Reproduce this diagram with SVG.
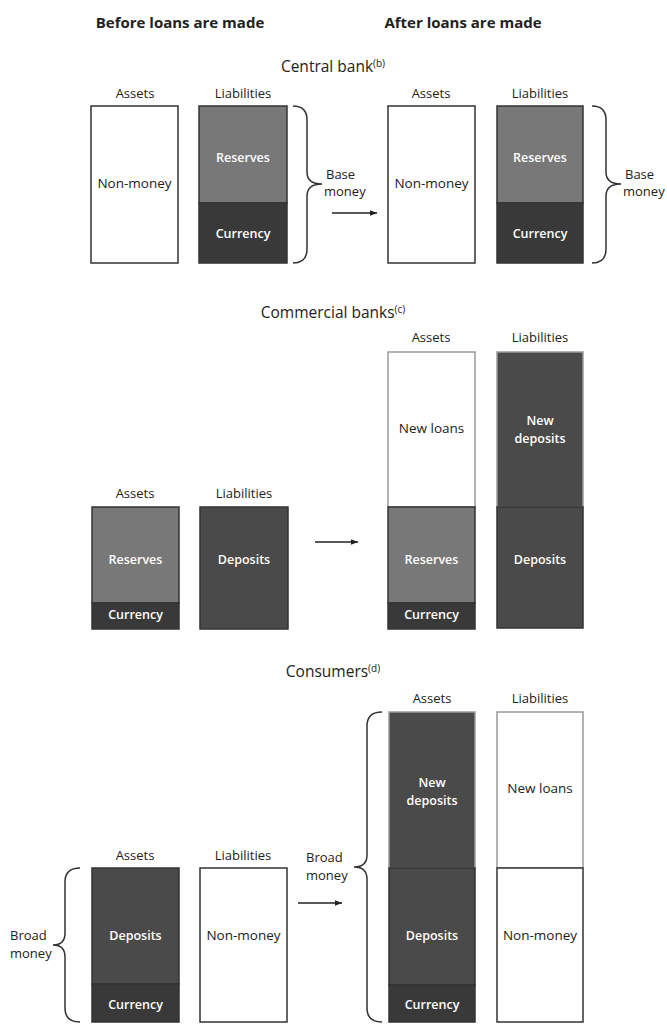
<svg xmlns="http://www.w3.org/2000/svg" width="667" height="1024" viewBox="0 0 667 1024">
<defs>
<marker id="ah" viewBox="0 0 10 10" refX="10" refY="5" markerWidth="7" markerHeight="7" markerUnits="userSpaceOnUse" orient="auto"><path d="M0,1 L10,5 L0,9 Z" fill="#222"/></marker>
<style>
text{font-family:"Open Sans","Noto Sans","DejaVu Sans",sans-serif;text-anchor:middle;fill:#222}
.hdr{font-size:15px;font-weight:bold}
.ttl{font-size:15.5px}
.sup{font-size:10px}
.col{font-size:13px}
.lb{font-size:13.5px}
.wl{font-size:12.5px;fill:#fff;font-weight:600}
.side{font-size:13px;text-anchor:start}
.box{stroke:#333;stroke-width:1.5}
.nbox{stroke:#9a9a9a;stroke-width:1.5}
.white{fill:#fff}
.res{fill:#787878}
.cur{fill:#393939}
.dep{fill:#4a4a4a}
.brace{fill:none;stroke:#333;stroke-width:1.5}
.arr{stroke:#222;stroke-width:1.5;marker-end:url(#ah)}
</style>
</defs>
<rect width="667" height="1024" fill="#fff"/>

<g id="headers">
<text class="hdr" x="180" y="28">Before loans are made</text>
<text class="hdr" x="463" y="28">After loans are made</text>
</g>

<!-- Central bank -->
<g id="title-central"><text class="ttl" x="333" y="72">Central bank<tspan class="sup" dy="-5">(b)</tspan></text></g>
<g id="cb-before-assets">
<text class="col" x="135" y="98">Assets</text>
<rect class="box white" x="91" y="106" width="87" height="157"/>
<text class="lb" x="134.5" y="188">Non-money</text>
</g>
<g id="cb-before-liab">
<text class="col" x="243" y="98">Liabilities</text>
<rect class="box res" x="199" y="106" width="88" height="97"/>
<rect class="box cur" x="199" y="203" width="88" height="60"/>
<text class="wl" x="243" y="162">Reserves</text>
<text class="wl" x="243" y="238">Currency</text>
</g>
<g id="cb-before-brace">
<path class="brace" d="M293,106 Q307,106 307,120 L307,172 Q307,184 322,184 Q307,184 307,196 L307,249 Q307,263 293,263"/>
<text class="side" x="326" y="179">Base</text>
<text class="side" x="324" y="196">money</text>
</g>
<g id="cb-after-assets">
<text class="col" x="431" y="98">Assets</text>
<rect class="box white" x="388" y="106" width="87" height="157"/>
<text class="lb" x="431.5" y="188">Non-money</text>
</g>
<g id="cb-after-liab">
<text class="col" x="540" y="98">Liabilities</text>
<rect class="box res" x="497" y="106" width="86" height="97"/>
<rect class="box cur" x="497" y="203" width="86" height="60"/>
<text class="wl" x="540" y="162">Reserves</text>
<text class="wl" x="540" y="238">Currency</text>
</g>
<g id="cb-after-brace">
<path class="brace" d="M592,106 Q606,106 606,120 L606,172 Q606,184 621,184 Q606,184 606,196 L606,249 Q606,263 592,263"/>
<text class="side" x="625" y="179">Base</text>
<text class="side" x="623" y="196">money</text>
</g>

<!-- Commercial banks -->
<g id="title-commercial"><text class="ttl" x="333" y="318">Commercial banks<tspan class="sup" dy="-5">(c)</tspan></text></g>
<g id="cm-before-assets">
<text class="col" x="135" y="498">Assets</text>
<rect class="box res" x="92" y="507" width="87" height="96"/>
<rect class="box cur" x="92" y="603" width="87" height="26"/>
<text class="wl" x="135.5" y="564">Reserves</text>
<text class="wl" x="135.5" y="619">Currency</text>
</g>
<g id="cm-before-liab">
<text class="col" x="244" y="498">Liabilities</text>
<rect class="box dep" x="200" y="507" width="88" height="122"/>
<text class="wl" x="244" y="564">Deposits</text>
</g>
<g id="cm-after-assets">
<text class="col" x="431" y="342">Assets</text>
<rect class="nbox white" x="388" y="352" width="87" height="155"/>
<rect class="box res" x="388" y="507" width="87" height="96"/>
<rect class="box cur" x="388" y="603" width="87" height="26"/>
<text class="lb" x="431.5" y="433">New loans</text>
<text class="wl" x="431.5" y="564">Reserves</text>
<text class="wl" x="431.5" y="619">Currency</text>
</g>
<g id="cm-after-liab">
<text class="col" x="540" y="342">Liabilities</text>
<rect class="nbox dep" x="497" y="352" width="86" height="155"/>
<rect class="box dep" x="497" y="507" width="86" height="121"/>
<text class="wl" x="540" y="425">New</text>
<text class="wl" x="540" y="443">deposits</text>
<text class="wl" x="540" y="564">Deposits</text>
</g>

<!-- Consumers -->
<g id="title-consumers"><text class="ttl" x="333" y="677">Consumers<tspan class="sup" dy="-5">(d)</tspan></text></g>
<g id="cs-before-assets">
<text class="col" x="135" y="860">Assets</text>
<rect class="box dep" x="92" y="868" width="87" height="116"/>
<rect class="box cur" x="92" y="984" width="87" height="38"/>
<text class="wl" x="135.5" y="940">Deposits</text>
<text class="wl" x="135.5" y="1009">Currency</text>
</g>
<g id="cs-before-liab">
<text class="col" x="243" y="860">Liabilities</text>
<rect class="box white" x="200" y="868" width="87" height="154"/>
<text class="lb" x="243.5" y="940">Non-money</text>
</g>
<g id="cs-before-brace">
<path class="brace" d="M80,868 Q65,868 65,882 L65,933 Q65,945 53,945 Q65,945 65,957 L65,1008 Q65,1022 80,1022"/>
<text class="side" x="10" y="940">Broad</text>
<text class="side" x="10" y="958">money</text>
</g>
<g id="cs-after-assets">
<text class="col" x="432" y="703">Assets</text>
<rect class="nbox dep" x="389" y="712" width="86" height="156"/>
<rect class="box dep" x="389" y="868" width="86" height="117"/>
<rect class="box cur" x="389" y="985" width="86" height="37"/>
<text class="wl" x="432" y="787">New</text>
<text class="wl" x="432" y="805">deposits</text>
<text class="wl" x="432" y="940">Deposits</text>
<text class="wl" x="432" y="1009">Currency</text>
</g>
<g id="cs-after-liab">
<text class="col" x="540" y="703">Liabilities</text>
<rect class="nbox white" x="497" y="712" width="86" height="156"/>
<rect class="box white" x="497" y="868" width="86" height="154"/>
<text class="lb" x="540" y="793">New loans</text>
<text class="lb" x="540" y="940">Non-money</text>
</g>
<g id="cs-after-brace">
<path class="brace" d="M382,712 Q367,712 367,726 L367,855 Q367,867 354,867 Q367,867 367,879 L367,1008 Q367,1022 382,1022"/>
<text class="side" x="306" y="862">Broad</text>
<text class="side" x="306" y="880">money</text>
</g>

<g id="connectors">
<line class="arr" x1="332" y1="213" x2="377" y2="213"/>
<line class="arr" x1="315" y1="542" x2="358" y2="542"/>
<line class="arr" x1="298" y1="903" x2="342" y2="903"/>
</g>
</svg>
